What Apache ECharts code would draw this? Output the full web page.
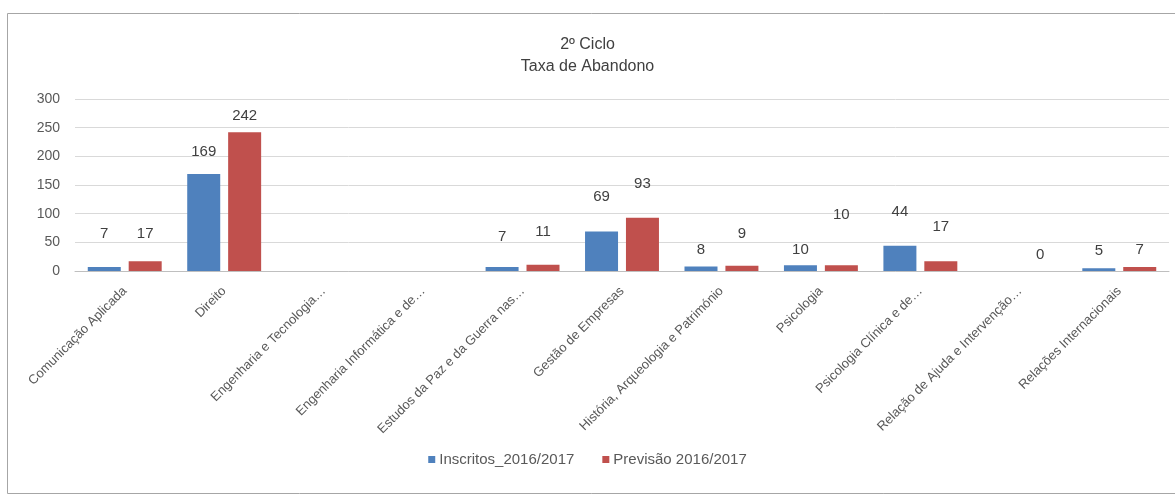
<!DOCTYPE html>
<html>
<head>
<meta charset="utf-8">
<script src="https://cdn.jsdelivr.net/npm/echarts@6/dist/echarts.min.js"></script>
<style>
  html, body { margin: 0; padding: 0; background: #fff; }
  #chart { width: 1175px; height: 497px; }
</style>
</head>
<body>
<div id="chart"></div>
<script>
// Courses (2º ciclo)
const categories = [
  'Comunicação Aplicada',
  'Direito',
  'Engenharia e Tecnologia…',
  'Engenharia Informática e de…',
  'Estudos da Paz e da Guerra nas…',
  'Gestão de Empresas',
  'História, Arqueologia e Património',
  'Psicologia',
  'Psicologia Clínica e de…',
  'Relação de Ajuda e Intervenção…',
  'Relações Internacionais'
];

// Enrolled vs forecast; null = no value for that course
const inscritos = [7, 169, null, null, 7, 69, 8, 10, 44, null, 5];
const previsao  = [17, 242, null, null, 11, 93, 9, 10, 17, 0, 7];

const yTicks = { min: 0, max: 300, interval: 50 };

// Gap (px) between each bar top and its value label
const gapInscritos = [26, 15, 0, 0, 23, 27, 9, 8, 26, 0, 10];
const gapPrevisao  = [20, 9, 0, 0, 25, 26, 24, 43, 27, 9, 10];

const FONT = 'Liberation Sans';
const BLUE = '#4F81BD';
const RED = '#C0504D';

function seriesData(values, gaps) {
  return values.map((v, i) => ({
    value: v,
    label: { distance: gaps[i] }
  }));
}

const valueLabel = {
  show: true, position: 'top',
  fontFamily: FONT, fontSize: 15, color: '#404040'
};

const chart = echarts.init(document.getElementById('chart'));
chart.setOption({
  animation: false,
  graphic: [{
    type: 'rect',
    shape: { x: 7.5, y: 13.5, width: 1180, height: 480 },
    style: { fill: 'none', stroke: '#a6a6a6', lineWidth: 1 },
    silent: true
  }],
  title: {
    text: '2º Ciclo\nTaxa de Abandono',
    left: 'center',
    top: 29,
    textStyle: {
      fontFamily: FONT, fontSize: 16, fontWeight: 'normal',
      color: '#404040', lineHeight: 22
    }
  },
  legend: {
    bottom: 25,
    left: 'center',
    itemWidth: 7,
    itemHeight: 7,
    itemGap: 28,
    icon: 'rect',
    textStyle: { fontFamily: FONT, fontSize: 15, color: '#595959', padding: [0, 0, 0, -1] },
    data: ['Inscritos_2016/2017', 'Previsão 2016/2017']
  },
  grid: { left: 75, right: 6, top: 99, bottom: 226, containLabel: false },
  xAxis: {
    type: 'category',
    data: categories,
    axisTick: { show: false },
    axisLine: { lineStyle: { color: '#bfbfbf' } },
    axisLabel: {
      rotate: 45,
      interval: 0,
      margin: 18,
      fontFamily: FONT,
      fontSize: 13,
      color: '#595959'
    }
  },
  yAxis: {
    type: 'value',
    min: yTicks.min,
    max: yTicks.max,
    interval: yTicks.interval,
    axisLine: { show: false },
    axisTick: { show: false },
    axisLabel: { fontFamily: FONT, fontSize: 14, color: '#595959', margin: 15 },
    splitLine: { lineStyle: { color: '#d9d9d9' } }
  },
  series: [
    {
      name: 'Inscritos_2016/2017',
      type: 'bar',
      data: seriesData(inscritos, gapInscritos),
      itemStyle: { color: BLUE },
      barWidth: 33,
      barGap: '24%',
      label: valueLabel
    },
    {
      name: 'Previsão 2016/2017',
      type: 'bar',
      data: seriesData(previsao, gapPrevisao),
      itemStyle: { color: RED },
      barWidth: 33,
      label: valueLabel
    }
  ]
});
</script>
</body>
</html>
